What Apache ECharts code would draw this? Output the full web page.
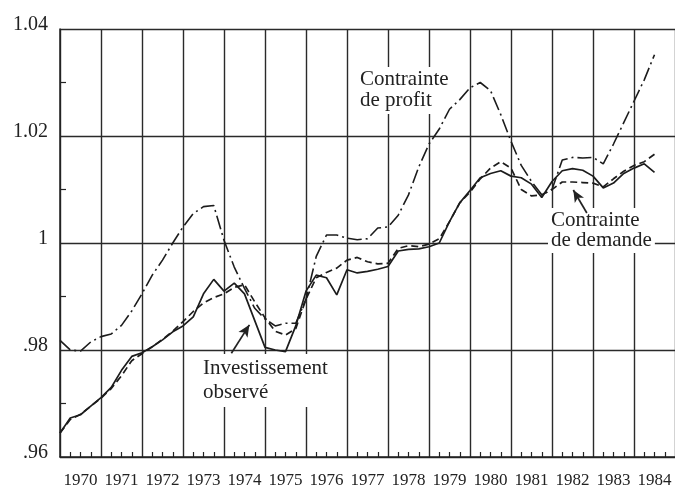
<!DOCTYPE html>
<html>
<head>
<meta charset="utf-8">
<script src="https://cdn.jsdelivr.net/npm/echarts@6/dist/echarts.min.js"></script>
<style>
  html, body { margin: 0; padding: 0; background: #fff; }
  #chart { width: 675px; height: 489px; }
</style>
</head>
<body>
<div id="chart"></div>
<script>
// quarterly series, 1970Q1 .. 1984Q3
const years = [1970, 1971, 1972, 1973, 1974, 1975, 1976, 1977, 1978, 1979, 1980, 1981, 1982, 1983, 1984]
const quarters = []
years.forEach((y) => [0, 1, 2, 3].forEach((q) => quarters.push(y + q / 4)))
quarters.length = 59

// Investissement observé (solid)
const investissement = [
  0.9645, 0.9673, 0.9679, 0.9695, 0.9711, 0.9730, 0.9762, 0.9788, 0.9795, 0.9806,
  0.9819, 0.9834, 0.9845, 0.9862, 0.9905, 0.9932, 0.9910, 0.9925, 0.9905, 0.9855,
  0.9805, 0.9800, 0.9797, 0.9845, 0.9910, 0.9940, 0.9935, 0.9903, 0.9950, 0.9944,
  0.9947, 0.9951, 0.9956, 0.9985, 0.9988, 0.9989, 0.9993, 1.0000, 1.0040, 1.0075,
  1.0098, 1.0122, 1.0130, 1.0135, 1.0125, 1.0122, 1.0110, 1.0085, 1.0115, 1.0135,
  1.0139, 1.0136, 1.0125, 1.0103, 1.0112, 1.0130, 1.0140, 1.0148, 1.0132
]

// Contrainte de demande (dashed)
const demande = [
  0.9645, 0.9670, 0.9680, 0.9695, 0.9710, 0.9728, 0.9752, 0.9780, 0.9793, 0.9806,
  0.9820, 0.9835, 0.9853, 0.9872, 0.9888, 0.9898, 0.9905, 0.9917, 0.9922, 0.9890,
  0.9860, 0.9835, 0.9828, 0.9840, 0.9895, 0.9935, 0.9945, 0.9953, 0.9968, 0.9973,
  0.9965, 0.9961, 0.9962, 0.9990, 0.9995, 0.9993, 0.9998, 1.0008, 1.0040, 1.0075,
  1.0095, 1.0120, 1.0140, 1.0152, 1.0140, 1.0100, 1.0088, 1.0090, 1.0100, 1.0114,
  1.0114, 1.0113, 1.0112, 1.0105, 1.0120, 1.0134, 1.0145, 1.0152, 1.0166
]

// Contrainte de profit (dash-dot)
const profit = [
  0.9818, 0.9800, 0.9798, 0.9815, 0.9825, 0.9830, 0.9846, 0.9873, 0.9905, 0.9940,
  0.9968, 1.0000, 1.0030, 1.0055, 1.0068, 1.0070, 1.0005, 0.9955, 0.9915, 0.9878,
  0.9858, 0.9845, 0.9850, 0.9850, 0.9895, 0.9975, 1.0015, 1.0015, 1.0009, 1.0006,
  1.0008, 1.0028, 1.0030, 1.0052, 1.0090, 1.0142, 1.0185, 1.0213, 1.0250, 1.0268,
  1.0290, 1.0300, 1.0285, 1.0240, 1.0190, 1.0145, 1.0115, 1.0090, 1.0100, 1.0155,
  1.0160, 1.0159, 1.0160, 1.0148, 1.0185, 1.0225, 1.0265, 1.0305, 1.0352
]

const ink = '#222'
const serif = 'Liberation Serif'
const pairs = (vals) => quarters.map((t, i) => [t, vals[i]])

const chart = echarts.init(document.getElementById('chart'))

// annotation text with a white box that hides the grid behind it
const textBox = (left, top, text, lineHeight) => ({
  type: 'text',
  left,
  top,
  z: 1,
  style: {
    text,
    fill: ink,
    font: `21px "${serif}"`,
    lineHeight,
    backgroundColor: '#fff',
    padding: [2, 3, 3, 3]
  }
})

chart.setOption({
  animation: false,
  backgroundColor: '#fff',
  grid: { left: 60, right: -2, top: 29, bottom: 32 },
  xAxis: [
    {
      type: 'value',
      min: 1970,
      max: 1985,
      interval: 1,
      axisLine: { show: true, lineStyle: { color: ink, width: 1.5 } },
      axisTick: { show: false, inside: true, length: 5 },
      minorTick: { show: true, splitNumber: 4, length: 5, lineStyle: { color: ink, width: 1.2 } },
      splitLine: { show: true, lineStyle: { color: '#2a2a2a', width: 1.4 } },
      axisLabel: { show: false }
    },
    {
      type: 'value',
      min: 1970,
      max: 1985,
      interval: 0.5,
      position: 'bottom',
      axisLine: { show: false },
      axisTick: { show: false },
      splitLine: { show: false },
      axisLabel: {
        margin: 15,
        color: ink,
        fontFamily: serif,
        fontSize: 17,
        showMinLabel: false,
        showMaxLabel: false,
        formatter: (v) => (Math.abs(v % 1 - 0.5) < 1e-6 ? String(Math.floor(v)) : '')
      }
    }
  ],
  yAxis: {
    type: 'value',
    min: 0.96,
    max: 1.04,
    interval: 0.02,
    axisLine: { show: true, lineStyle: { color: ink, width: 1.5 } },
    axisTick: { show: false, inside: true },
    minorTick: { show: true, splitNumber: 2, length: 6, lineStyle: { color: ink, width: 1.2 } },
    splitLine: { show: true, lineStyle: { color: '#2a2a2a', width: 1.4 } },
    axisLabel: {
      margin: 12,
      color: ink,
      fontFamily: serif,
      fontSize: 20,
      verticalAlign: 'bottom',
      lineHeight: 8,
      formatter: (v) => {
        if (Math.abs(v - 1) < 1e-9) return '1'
        return v.toFixed(2).replace(/^0/, '')
      }
    }
  },
  series: [
    {
      name: 'Investissement observé',
      type: 'line',
      z: 3,
      data: pairs(investissement),
      showSymbol: false,
      lineStyle: { color: '#1c1c1c', width: 1.7 },
      markLine: {
        silent: true,
        symbol: ['none', 'arrow'],
        symbolSize: [8, 12],
        label: { show: false },
        lineStyle: { color: ink, width: 1.7, type: 'solid' },
        data: [
          [{ coord: [1974.18, 0.9794] }, { coord: [1974.62, 0.9847] }],
          [{ coord: [1982.85, 1.0056] }, { coord: [1982.52, 1.0099] }]
        ]
      }
    },
    {
      name: 'Contrainte de demande',
      type: 'line',
      z: 3,
      data: pairs(demande),
      showSymbol: false,
      lineStyle: { color: '#1c1c1c', width: 1.7, type: [7, 4] }
    },
    {
      name: 'Contrainte de profit',
      type: 'line',
      z: 3,
      data: pairs(profit),
      showSymbol: false,
      lineStyle: { color: '#1c1c1c', width: 1.6, type: [14, 4, 2, 4] }
    }
  ],
  graphic: [
    textBox(357, 67, 'Contrainte\nde profit', 21),
    textBox(548, 208, 'Contrainte\nde demande', 20),
    textBox(200, 354, 'Investissement\nobservé', 24)
  ]
})
</script>
</body>
</html>
